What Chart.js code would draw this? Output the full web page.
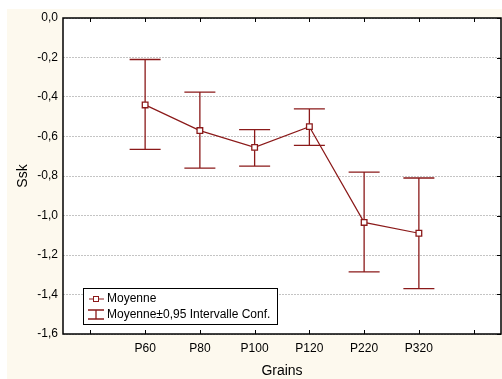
<!DOCTYPE html>
<html>
<head>
<meta charset="utf-8">
<script src="https://cdn.jsdelivr.net/npm/chart.js@4"></script>
<style>
  html, body { margin: 0; padding: 0; background: #ffffff; }
  #wrap { width: 502px; height: 379px; position: relative; }
</style>
</head>
<body>
<div id="wrap"><canvas id="graficoSsk" width="502" height="379"></canvas></div>
<script>
// Datos
const categorias = ['', 'P60', 'P80', 'P100', 'P120', 'P220', 'P320', ''];
const moyenne = [null, -0.44, -0.57, -0.655, -0.55, -1.035, -1.09, null];
const icHaut = [null, -0.21, -0.375, -0.565, -0.46, -0.78, -0.81, null];
const icBas = [null, -0.665, -0.76, -0.75, -0.645, -1.285, -1.37, null];
const yTicks = [0, -0.2, -0.4, -0.6, -0.8, -1.0, -1.2, -1.4, -1.6];

const rouge = '#8b1a1a';
const police = '"Liberation Sans", Arial, sans-serif';

function formatoTick(v) {
    return (Math.round(v * 10) / 10).toFixed(1).replace('.', ',').replace('-0,0', '0,0');
}

// Fondo crema y marco
const fondo = {
    id: 'fondo',
    beforeDraw(chart) {
        const ctx = chart.ctx;
        const a = chart.chartArea;
        ctx.save();
        ctx.fillStyle = '#fdf9ee';
        ctx.fillRect(7, 9, chart.width - 7, chart.height - 9);
        ctx.fillStyle = '#ffffff';
        ctx.fillRect(a.left, a.top, a.right - a.left, a.bottom - a.top);
        ctx.restore();
    }
};

// Barras de error (intervalo de confianza)
const barrasError = {
    id: 'barrasError',
    beforeDatasetsDraw(chart) {
        const ctx = chart.ctx;
        const x = chart.scales.x;
        const y = chart.scales.y;
        ctx.save();
        ctx.strokeStyle = rouge;
        ctx.lineWidth = 1.3;
        icHaut.forEach((h, i) => {
            if (h === null) return;
            const px = x.getPixelForValue(i);
            const pt = y.getPixelForValue(h);
            const pb = y.getPixelForValue(icBas[i]);
            ctx.beginPath();
            ctx.moveTo(px, pt); ctx.lineTo(px, pb);
            ctx.moveTo(px - 15.5, pt); ctx.lineTo(px + 15.5, pt);
            ctx.moveTo(px - 15.5, pb); ctx.lineTo(px + 15.5, pb);
            ctx.stroke();
        });
        ctx.restore();
    },
    afterDraw(chart) {
        const ctx = chart.ctx;
        const a = chart.chartArea;
        const x = chart.scales.x;
        const y = chart.scales.y;
        ctx.save();
        // marco
        ctx.strokeStyle = '#000';
        ctx.lineWidth = 1.5;
        ctx.strokeRect(a.left, a.top, a.right - a.left, a.bottom - a.top);
        // marcas hacia dentro
        ctx.lineWidth = 1;
        ctx.beginPath();
        categorias.forEach((c, i) => {
            const px = Math.round(x.getPixelForValue(i)) + 0.5;
            ctx.moveTo(px, a.top); ctx.lineTo(px, a.top + 4);
            ctx.moveTo(px, a.bottom); ctx.lineTo(px, a.bottom - 4);
        });
        yTicks.forEach(v => {
            const py = Math.round(y.getPixelForValue(v)) + 0.5;
            ctx.moveTo(a.right, py); ctx.lineTo(a.right - 4, py);
        });
        ctx.stroke();

        // títulos de ejes
        ctx.fillStyle = '#000';
        ctx.font = '14px ' + police;
        ctx.textAlign = 'center';
        ctx.textBaseline = 'middle';
        ctx.fillText('Grains', 282, 371);
        ctx.translate(23, 176);
        ctx.rotate(-Math.PI / 2);
        ctx.fillText('Ssk', 0, 0);
        ctx.restore();

        // leyenda
        ctx.save();
        const lx = 83, ly = 288, lw = 194, lh = 36;
        ctx.fillStyle = '#fff';
        ctx.fillRect(lx, ly, lw, lh);
        ctx.strokeStyle = '#000';
        ctx.lineWidth = 1;
        ctx.strokeRect(lx + 0.5, ly + 0.5, lw, lh);
        ctx.strokeStyle = rouge;
        ctx.beginPath();
        ctx.moveTo(89, 299); ctx.lineTo(104, 299);
        ctx.stroke();
        ctx.fillStyle = '#fff';
        ctx.fillRect(93.5, 296.5, 5, 5);
        ctx.strokeRect(93.5, 296.5, 5, 5);
        ctx.lineWidth = 1.3;
        ctx.beginPath();
        ctx.moveTo(88, 310); ctx.lineTo(104, 310);
        ctx.moveTo(96, 310); ctx.lineTo(96, 319);
        ctx.moveTo(88, 319); ctx.lineTo(104, 319);
        ctx.stroke();
        ctx.fillStyle = '#000';
        ctx.font = '12px ' + police;
        ctx.textAlign = 'left';
        ctx.textBaseline = 'middle';
        ctx.fillText('Moyenne', 107, 299);
        ctx.fillText('Moyenne\u00b10,95 Intervalle Conf.', 107, 315);
        ctx.restore();
    }
};

new Chart(document.getElementById('graficoSsk'), {
    type: 'line',
    data: {
        labels: categorias,
        datasets: [{
            label: 'Moyenne',
            data: moyenne,
            borderColor: rouge,
            borderWidth: 1.2,
            pointStyle: 'rect',
            pointRadius: 4,
            pointBackgroundColor: '#fff',
            pointBorderColor: rouge,
            pointBorderWidth: 1.3,
            spanGaps: false,
            tension: 0
        }]
    },
    options: {
        responsive: false,
        animation: false,
        layout: { autoPadding: false, padding: { left: 0, top: 18, right: 1, bottom: 0 } },
        plugins: {
            legend: { display: false },
            tooltip: { enabled: false }
        },
        scales: {
            x: {
                offset: true,
                grid: { display: false, drawTicks: false },
                border: { display: false },
                ticks: {
                    color: '#000',
                    font: { family: police, size: 12 },
                    padding: 7,
                    maxRotation: 0,
                    autoSkip: false
                },
                afterFit(scale) {
                    scale.height = 45;
                    scale.paddingLeft = 0;
                    scale.paddingRight = 0;
                }
            },
            y: {
                min: -1.6,
                max: 0,
                grid: { color: '#c4c4c4', lineWidth: 1, drawTicks: false },
                border: { display: false, dash: [2, 1] },
                afterBuildTicks(scale) { scale.ticks = yTicks.map(v => ({ value: v })); },
                ticks: {
                    color: '#000',
                    font: { family: police, size: 12 },
                    padding: 5,
                    callback: v => formatoTick(v)
                },
                afterFit(scale) {
                    scale.width = 63;
                    scale.paddingTop = 0;
                    scale.paddingBottom = 0;
                }
            }
        }
    },
    plugins: [fondo, barrasError]
});
</script>
</body>
</html>
